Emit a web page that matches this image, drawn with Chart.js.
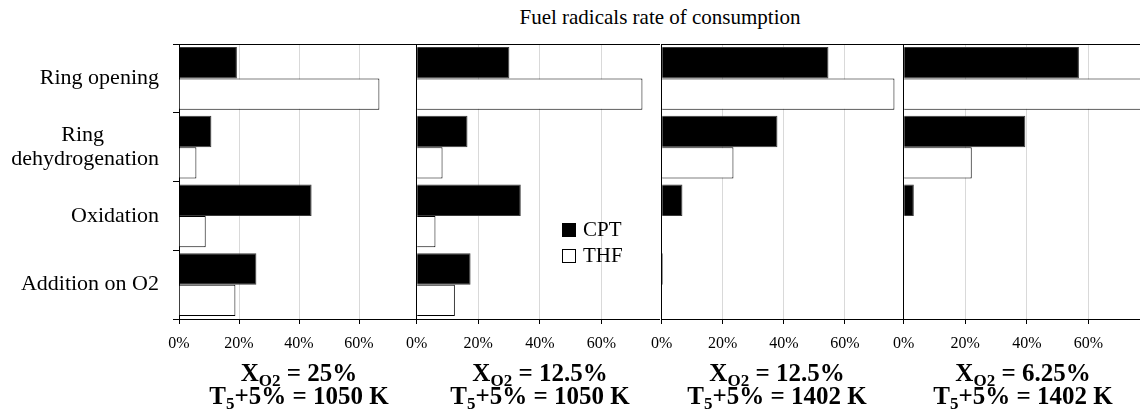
<!DOCTYPE html>
<html>
<head>
<meta charset="utf-8">
<script src="https://cdn.jsdelivr.net/npm/chart.js@4.4.1/dist/chart.umd.min.js"></script>
<style>
    body { margin: 0; width: 1140px; height: 416px; overflow: hidden; background: #fff; position: relative;
        font-family: 'Liberation Serif', 'Times New Roman', serif; color: #000; }
    canvas { position: absolute; top: 0; }
    .title { position: absolute; left: 460px; width: 400px; top: 7px; text-align: center; font-size: 21px; line-height: 21px; }
    .cond { position: absolute; width: 300px; text-align: center; font-weight: bold; font-size: 25px; line-height: 25px; white-space: nowrap; }
    .cond sub { font-size: 17px; line-height: 0; vertical-align: -5px; }
    .sq { position: absolute; width: 12px; height: 12px; border: 1px solid #000; }
    .leg { position: absolute; font-size: 21px; line-height: 21px; }
</style>
</head>
<body>
<div class="title">Fuel radicals rate of consumption</div>

<canvas id="panel1" width="416" height="416" style="left:0px"></canvas>
<canvas id="panel2" width="264" height="416" style="left:396px"></canvas>
<canvas id="panel3" width="262" height="416" style="left:641px"></canvas>
<canvas id="panel4" width="264" height="416" style="left:883px"></canvas>

<div class="sq" style="left:562px;top:223px;background:#000"></div>
<div class="leg" style="left:583px;top:219px">CPT</div>
<div class="sq" style="left:562px;top:249px;background:#fff"></div>
<div class="leg" style="left:583px;top:245px">THF</div>

<div id="conds"></div>

<script>
'use strict';
const categories = [['Ring opening'], ['Ring', 'dehydrogenation'], 'Oxidation', 'Addition on O2'];
const seriesNames = ['CPT', 'THF'];

// % of fuel radical consumption, one pair of arrays per condition
const cpt1 = [19.3, 10.8, 44.2, 25.8];
const thf1 = [66.8, 5.8, 8.9, 18.8];
const cpt2 = [30.1, 16.5, 33.8, 17.5];
const thf2 = [73.3, 8.4, 6.1, 12.4];
const cpt3 = [54.6, 37.9, 6.8, 0.4];
const thf3 = [76.2, 23.5, 0, 0];
const cpt4 = [56.9, 39.5, 3.3, 0.2];
const thf4 = [82, 22.1, 0, 0];

const xO2 = ['25%', '12.5%', '12.5%', '6.25%'];
const temps = ['1050 K', '1050 K', '1402 K', '1402 K'];
const xTicks = [0, 20, 40, 60];

const fontFamily = "'Liberation Serif', 'Times New Roman', serif";
const measure = document.createElement('canvas').getContext('2d');

// centre the lines of a multi-line label inside its own block (label block stays right aligned)
function centerLines(lines, font) {
    if (!Array.isArray(lines) || lines.length < 2) return lines;
    measure.font = font;
    const widths = lines.map(l => measure.measureText(l).width);
    const widest = Math.max(...widths);
    const sp = measure.measureText('\u00a0').width;
    return lines.map((l, i) => l + '\u00a0'.repeat(Math.round((widest - widths[i]) / 2 / sp)));
}

function makePanel(id, cpt, thf, showLabels) {
    const ctx = document.getElementById(id).getContext('2d');
    return new Chart(ctx, {
        type: 'bar',
        data: {
            labels: categories,
            datasets: [
                {
                    label: seriesNames[0],
                    data: cpt,
                    backgroundColor: '#000',
                    borderColor: '#3a3a3a',
                    borderWidth: 1,
                    categoryPercentage: 0.91,
                    barPercentage: 1,
                },
                {
                    label: seriesNames[1],
                    data: thf,
                    backgroundColor: '#fff',
                    borderColor: '#000',
                    borderWidth: 1,
                    categoryPercentage: 0.91,
                    barPercentage: 1,
                }],
        },
        options: {
            indexAxis: 'y',
            responsive: false,
            animation: false,
            layout: { padding: { top: 44, right: 0, left: 0, bottom: 0 } },
            plugins: {
                legend: { display: false },
                tooltip: { enabled: false },
            },
            scales: {
                x: {
                    min: 0,
                    max: 79,
                    afterFit: s => { s.height = 97; },
                    afterBuildTicks: s => { s.ticks = xTicks.map(v => ({ value: v })); },
                    ticks: {
                        padding: 10,
                        color: '#000',
                        font: { family: fontFamily, size: 16 },
                        callback: v => v + '%',
                    },
                    grid: { color: '#d9d9d9', tickColor: '#000', tickLength: 5 },
                    border: { color: '#000', width: 1 },
                },
                y: {
                    afterFit: s => { s.width = showLabels ? 179 : 20; },
                    ticks: {
                        display: showLabels,
                        padding: 14,
                        color: '#000',
                        font: { family: fontFamily, size: 22, lineHeight: 1.1 },
                        callback: (v, i) => centerLines(categories[i], '22px ' + fontFamily),
                    },
                    grid: {
                        color: c => c.index === 0 ? '#000' : 'rgba(0,0,0,0)',
                        drawTicks: showLabels,
                        tickLength: 6,
                        tickColor: '#000',
                    },
                    border: { color: '#000', width: 1 },
                },
            },
        },
    });
}

makePanel('panel1', cpt1, thf1, true);
makePanel('panel2', cpt2, thf2, false);
makePanel('panel3', cpt3, thf3, false);
makePanel('panel4', cpt4, thf4, false);

// condition captions under each panel
const condCenters = [299, 540, 777, 1023];
let html = '';
condCenters.forEach((cx, i) => {
    html += '<div class="cond" style="left:' + (cx - 150) + 'px;top:360px">X<sub>O2</sub> = ' + xO2[i] + '</div>';
    html += '<div class="cond" style="left:' + (cx - 150) + 'px;top:383px">T<sub>5</sub>+5% = ' + temps[i] + '</div>';
});
document.getElementById('conds').innerHTML = html;
</script>
</body>
</html>
